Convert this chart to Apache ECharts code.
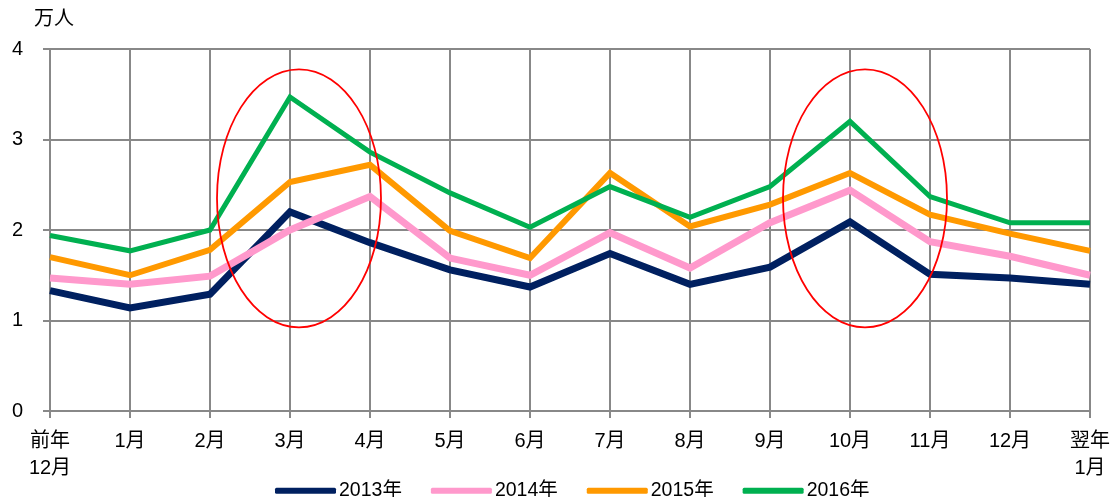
<!DOCTYPE html>
<html><head><meta charset="utf-8">
<script src="https://cdn.jsdelivr.net/npm/echarts@6/dist/echarts.min.js"></script>
<style>html,body{margin:0;padding:0;background:#fff}#c{width:1113px;height:497px}</style>
</head><body><div id="c"></div>
<script>
const categories = ['前年\n12月','1月','2月','3月','4月','5月','6月','7月','8月','9月','10月','11月','12月','翌年\n1月'];
const s2013 = [1.33,1.14,1.29,2.20,1.86,1.56,1.37,1.74,1.40,1.59,2.09,1.51,1.47,1.40];
const s2014 = [1.47,1.40,1.49,2.00,2.37,1.69,1.50,1.97,1.58,2.08,2.44,1.87,1.71,1.50];
const s2015 = [1.70,1.50,1.78,2.53,2.72,1.99,1.69,2.63,2.04,2.28,2.63,2.17,1.96,1.77];
const s2016 = [1.94,1.77,2.00,3.47,2.86,2.41,2.03,2.48,2.14,2.48,3.20,2.37,2.08,2.08];
const seriesNames = ['2013年','2014年','2015年','2016年'];
const highlightMonths = ['3月','10月'];

const font = 'Arial, "Liberation Sans", "Noto Sans CJK JP", sans-serif';
const chart = echarts.init(document.getElementById('c'));
const colors = ['#002060','#FF99CC','#FF9900','#00B050'];
const widths = [7,7,6,5];
const data = [s2013,s2014,s2015,s2016];
chart.setOption({
  animation:false,
  textStyle:{fontFamily:font},
  grid:{left:50,right:18,top:49,bottom:86,containLabel:false},
  legend:{
    top:476,left:270,itemWidth:61,itemHeight:6,itemGap:29,
    icon:'roundRect',
    textStyle:{fontSize:19.5,color:'#000',fontFamily:font,padding:[0,0,0,-2]},
    data:seriesNames
  },
  xAxis:{
    type:'category',boundaryGap:false,data:categories,
    axisLine:{lineStyle:{color:'#888',width:2}},
    axisTick:{show:true,length:7,lineStyle:{color:'#888',width:2}},
    axisLabel:{color:'#000',fontSize:20,margin:17,lineHeight:27,interval:0},
    splitLine:{show:true,lineStyle:{color:'#888',width:2}}
  },
  yAxis:{
    type:'value',min:0,max:4,interval:1,
    name:'万人',nameLocation:'end',nameGap:20,
    nameTextStyle:{color:'#000',fontSize:20,align:'right',padding:[0,-24,0,0]},
    axisLine:{show:true,lineStyle:{color:'#888',width:2}},
    axisTick:{show:true,length:7,lineStyle:{color:'#888',width:2}},
    axisLabel:{color:'#000',fontSize:20,margin:27},
    splitLine:{lineStyle:{color:'#888',width:2}}
  },
  series:data.map((d,i)=>({
    name:seriesNames[i],type:'line',data:d,symbol:'none',
    lineStyle:{color:colors[i],width:widths[i],join:'miter'},
    itemStyle:{color:colors[i]},z:2+i
  }))
});
function drawEllipses(){
  const g = highlightMonths.map((m,i)=>{
    const c = chart.convertToPixel({xAxisIndex:0,yAxisIndex:0},[m,2.35]);
    return {type:'ellipse',shape:{cx:c[0]+(i?15:9),cy:c[1],rx:82,ry:129},
      style:{fill:'none',stroke:'#FF0000',lineWidth:1.8},z:100};
  });
  chart.setOption({graphic:g});
}
drawEllipses();
</script></body></html>
